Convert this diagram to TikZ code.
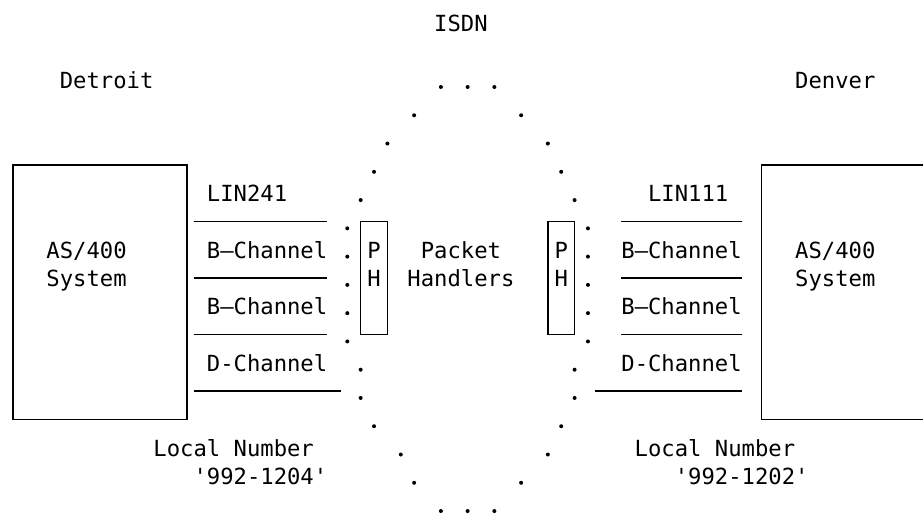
\documentclass[tikz,border=0pt]{standalone}
\usepackage{fontspec}
\newfontfamily\diagmono{DejaVu Sans Mono}
\begin{document}
\begin{tikzpicture}[x=13.37pt, y=-28.27pt,
  txt/.style={font={\diagmono\fontsize{22.21pt}{28pt}\selectfont}, inner sep=0pt, outer sep=0pt, anchor=base west},
  rule/.style={line width=1.4pt},
  frame/.style={line width=1.4pt}]
\useasboundingbox (-0.475,-1.1305) rectangle (68.56,17.05);

% titles
\node[txt] (isdn) at (32,0) {ISDN};
\node[txt] (detroit) at (4,2) {Detroit};
\node[txt] (denver) at (59,2) {Denver};

% left system
\draw[frame] (0.5,4.701) rectangle (13.5,13.701);
\node[txt] (lsys1) at (3,8) {AS/400};
\node[txt] (lsys2) at (3,9) {System};

% right system (cut by the page edge)
\draw[frame] (68.6,4.701) -- (56.5,4.701) -- (56.5,13.701) -- (68.6,13.701);
\node[txt] (rsys1) at (59,8) {AS/400};
\node[txt] (rsys2) at (59,9) {System};

% left lines
\node[txt] (llin) at (15,6) {LIN241};
\node[txt] (lb1) at (15,8) {B—Channel};
\node[txt] (lb2) at (15,10) {B—Channel};
\node[txt] (ld) at (15,12) {D-Channel};
\draw[rule] (14,6.701) -- (24,6.701);
\draw[rule] (14,8.701) -- (24,8.701);
\draw[rule] (14,10.701) -- (24,10.701);
\draw[rule] (14,12.701) -- (25,12.701);
\node[txt] (lnum1) at (11,15) {Local Number};
\node[txt] (lnum2) at (14,16) {'992-1204'};

% right lines
\node[txt] (rlin) at (48,6) {LIN111};
\node[txt] (rb1) at (46,8) {B—Channel};
\node[txt] (rb2) at (46,10) {B—Channel};
\node[txt] (rd) at (46,12) {D-Channel};
\draw[rule] (46,6.701) -- (55,6.701);
\draw[rule] (46,8.701) -- (55,8.701);
\draw[rule] (46,10.701) -- (55,10.701);
\draw[rule] (44,12.701) -- (55,12.701);
\node[txt] (rnum1) at (47,15) {Local Number};
\node[txt] (rnum2) at (50,16) {'992-1202'};

% packet handlers
\draw[frame] (26.5,6.701) rectangle (28.5,10.701);
\node[txt] (lp) at (27,8) {P};
\node[txt] (lh) at (27,9) {H};
\draw[frame] (40.5,6.701) rectangle (42.5,10.701);
\node[txt] (rp) at (41,8) {P};
\node[txt] (rh) at (41,9) {H};
\node[txt] (pk1) at (31,8) {Packet};
\node[txt] (pk2) at (30,9) {Handlers};

% ISDN cloud of dots
\foreach \c/\r in {32/2,34/2,36/2, 30/3,38/3, 28/4,40/4, 27/5,41/5, 26/6,42/6,
  25/7,43/7, 25/8,43/8, 25/9,43/9, 25/10,43/10, 25/11,43/11,
  26/12,42/12, 26/13,42/13, 27/14,41/14, 29/15,40/15, 30/16,38/16,
  32/17,34/17,36/17}
  \fill (\c+0.5,\r-0.053) circle (2pt);
\end{tikzpicture}
\end{document}
